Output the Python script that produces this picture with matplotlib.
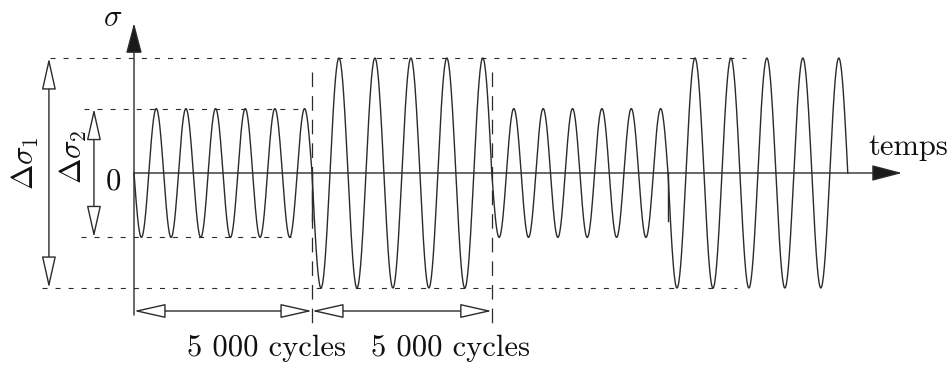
import matplotlib
matplotlib.use("Agg")
import matplotlib.pyplot as plt
import numpy as np

# Data ------------------------------------------------------------------------
block_edges = [0.0, 1.0, 2.01, 3.0, 4.01]    # time blocks (1 block = 5 000 cycles)
amplitudes  = [0.56, 1.0, 0.56, 1.0]          # stress amplitude per block
n_cycles    = [6, 5, 6, 5]                    # cycles drawn per block
cycle_labels = ["5 000 cycles", "5 000 cycles"]

plt.rcParams['mathtext.fontset'] = 'cm'
plt.rcParams['axes.unicode_minus'] = False
plt.rcParams['lines.scale_dashes'] = False

col = '#2b2b2b'
fs = 22

fig = plt.figure(figsize=(9.49, 3.65), dpi=100)
ax = fig.add_axes([0, 0, 1, 1])
ax.set_xlim(-134 / 178, (949 - 134) / 178)
ax.set_ylim(-(365 - 173) / 115, 173 / 115)
ax.axis('off')

# Signal ----------------------------------------------------------------------
for i in range(len(amplitudes)):
    x0, x1 = block_edges[i], block_edges[i + 1]
    t = np.linspace(0, 1, 400)
    ax.plot(x0 + (x1 - x0) * t, -amplitudes[i] * np.sin(2 * np.pi * n_cycles[i] * t),
            color=col, lw=1.0)

# small marks at block changes
for xb in [block_edges[1], block_edges[3]]:
    ax.plot([xb, xb], [0, -0.42], color=col, lw=1.0)

# Axes arrows -----------------------------------------------------------------
ax.annotate('', xy=(0, 1.304), xytext=(0, -1.235),
            arrowprops=dict(arrowstyle='-|>,head_length=1.9,head_width=0.5',
                            fc='#1a1a1a', ec=col, lw=1.0, shrinkA=0, shrinkB=0,
                            mutation_scale=10))
ax.annotate('', xy=(4.315, 0), xytext=(0, 0),
            arrowprops=dict(arrowstyle='-|>,head_length=1.9,head_width=0.5',
                            fc='#1a1a1a', ec=col, lw=1.0, shrinkA=0, shrinkB=0,
                            mutation_scale=10))

# Dashed level lines ------------------------------------------------------------
big = max(amplitudes)
small = min(amplitudes)
dash = (0, (3.6, 5.8))
ax.plot([-0.472, 3.44], [big, big], color=col, lw=0.8, linestyle=dash)
ax.plot([-0.517, 3.39], [-big, -big], color=col, lw=0.8, linestyle=dash)
ax.plot([-0.28, 0.95], [small, small], color=col, lw=0.8, linestyle=dash)
ax.plot([-0.30, 0.88], [-small, -small], color=col, lw=0.8, linestyle=dash)

# long-dashed block limits
for xb in [block_edges[1], block_edges[2]]:
    ax.plot([xb, xb], [0.88, -1.30], color=col, lw=0.9, linestyle=(0, (10.5, 6.5)))

# Range arrows (open heads) ---------------------------------------------------
open_head = dict(arrowstyle='<|-|>,head_length=2.0,head_width=0.45',
                 fc='white', ec=col, lw=1.0, shrinkA=0, shrinkB=0, mutation_scale=10)
ax.annotate('', xy=(-0.478, big), xytext=(-0.478, -big), arrowprops=open_head)
ax.annotate('', xy=(-0.225, small), xytext=(-0.225, -small), arrowprops=open_head)

y_dim = -1.2
ax.annotate('', xy=(block_edges[0], y_dim), xytext=(block_edges[1], y_dim), arrowprops=open_head)
ax.annotate('', xy=(block_edges[1], y_dim), xytext=(block_edges[2], y_dim), arrowprops=open_head)

# Texts -----------------------------------------------------------------------
ax.text(-0.118, 1.35, r'$\sigma$', fontsize=fs, ha='center', va='center', color='#111')
ax.text(-0.118, -0.08, '0', fontsize=fs, ha='center', va='center', family='cmr10', color='#111')
ax.text(-0.612, 0.087, r'$\Delta\sigma_1$', fontsize=fs, rotation=90,
        ha='center', va='center', color='#111')
ax.text(-0.343, 0.14, r'$\Delta\sigma_2$', fontsize=fs, rotation=90,
        ha='center', va='center', color='#111')
ax.text(4.35, 0.226, 'temps', fontsize=fs, ha='center', va='center', family='cmr10', color='#111')
ax.text(0.742, -1.52, cycle_labels[0], fontsize=fs, ha='center', va='center',
        family='cmr10', color='#111')
ax.text(1.78, -1.52, cycle_labels[1], fontsize=fs, ha='center', va='center',
        family='cmr10', color='#111')

fig.savefig('out.png', dpi=100)
